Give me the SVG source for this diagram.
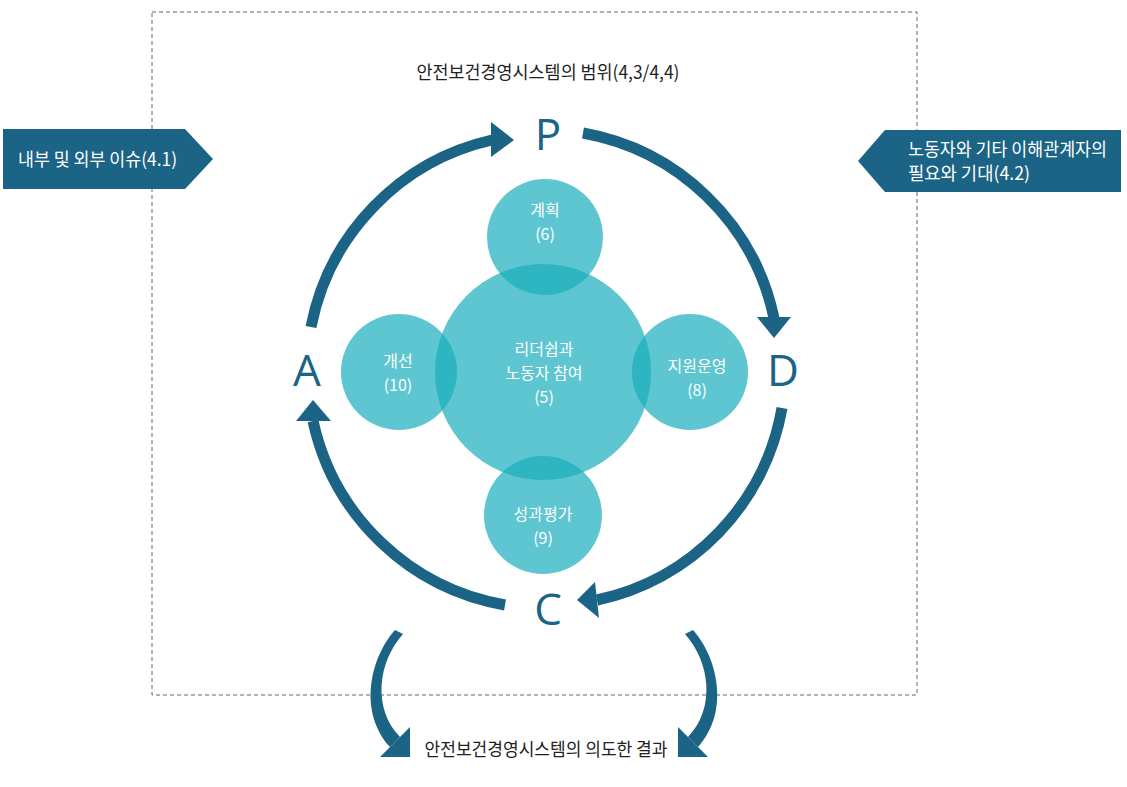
<svg xmlns="http://www.w3.org/2000/svg" width="1127" height="787" viewBox="0 0 1127 787">
<style>
.kr{font-family:"Noto Sans CJK KR","Noto Sans",sans-serif}
.lbl{fill:#ffffff;font-size:18px}
.cir{fill:rgb(25,174,188);fill-opacity:0.7}
.ctx{fill:#ffffff;font-size:16px;text-anchor:middle}
.ring{fill:none;stroke:#1b6485;stroke-width:11}
.head{fill:#1b6485}
.pdca{font-family:"Open Sans","Noto Sans",sans-serif;font-size:44px;fill:#1b6485;text-anchor:middle}
.blk{fill:#222222;font-size:18px;text-anchor:middle}
</style>
<rect x="0" y="0" width="1127" height="787" fill="#ffffff"/>
<rect id="scope" x="152" y="12" width="765" height="683" fill="none" stroke="#4d6f80" stroke-width="1" stroke-dasharray="4 3"/>
<text class="kr blk" x="548" y="79" font-size="17" textLength="263" lengthAdjust="spacingAndGlyphs">안전보건경영시스템의 범위(4,3/4,4)</text>

<g id="issue-internal">
<polygon points="3,129 185,129 213,159 185,189 3,189" fill="#1b6485"/>
<text class="kr lbl" x="18" y="166" textLength="159" lengthAdjust="spacingAndGlyphs">내부 및 외부 이슈(4.1)</text>
</g>
<g id="issue-parties">
<polygon points="858,161 885,130 1121,130 1121,192 885,192" fill="#1b6485"/>
<text class="kr lbl" x="908" y="156" font-size="16" textLength="199" lengthAdjust="spacingAndGlyphs">노동자와 기타 이해관계자의</text>
<text class="kr lbl" x="908" y="180" font-size="16" textLength="122" lengthAdjust="spacingAndGlyphs">필요와 기대(4.2)</text>
</g>

<g id="connectors">
<path class="ring" d="M311,327 A238,238 0 0 1 492,140"/>
<polygon class="head" points="491,122 514,140 491,157"/>
<path class="ring" d="M583,133 A238,238 0 0 1 774,318"/>
<polygon class="head" points="757,317 791,317 774,338"/>
<path class="ring" d="M782,408 A238,238 0 0 1 597,600"/>
<polygon class="head" points="595,582 599,618 577,600"/>
<path class="ring" d="M505,605 A238,238 0 0 1 313,421"/>
<polygon class="head" points="296,421 331,421 313,400"/>
<g id="out-left">
<path class="head" d="M395,630 C370,658 358,712 390,747 L400,737 C372,708 378,662 403,634 Z"/>
<polygon class="head" points="410,727 410,757 380,757"/>
</g>
<g id="out-right" transform="translate(1088,0) scale(-1,1)">
<path class="head" d="M395,630 C370,658 358,712 390,747 L400,737 C372,708 378,662 403,634 Z"/>
<polygon class="head" points="410,727 410,757 380,757"/>
</g>
</g>

<g id="P"><text class="pdca" x="548" y="150">P</text></g>
<g id="D"><text class="pdca" x="783" y="386">D</text></g>
<g id="C"><text class="pdca" x="548" y="625">C</text></g>
<g id="A"><text class="pdca" x="307" y="386">A</text></g>

<g id="leadership">
<circle class="cir" cx="543" cy="372" r="108"/>
</g>
<g id="planning">
<circle class="cir" cx="545" cy="237" r="58"/>
</g>
<g id="improvement">
<circle class="cir" cx="399" cy="372" r="58"/>
</g>
<g id="support">
<circle class="cir" cx="690" cy="372" r="58"/>
</g>
<g id="evaluation">
<circle class="cir" cx="543" cy="515" r="59"/>
</g>
<g id="circle-texts">
<text class="kr ctx" x="544" y="355">리더쉽과</text>
<text class="kr ctx" x="544" y="379">노동자 참여</text>
<text class="kr ctx" x="544" y="403">(5)</text>
<text class="kr ctx" x="545" y="216">계획</text>
<text class="kr ctx" x="545" y="240">(6)</text>
<text class="kr ctx" x="398" y="367">개선</text>
<text class="kr ctx" x="398" y="391">(10)</text>
<text class="kr ctx" x="697" y="372">지원운영</text>
<text class="kr ctx" x="697" y="396">(8)</text>
<text class="kr ctx" x="543" y="520">성과평가</text>
<text class="kr ctx" x="543" y="544">(9)</text>
</g>

<text class="kr blk" x="546" y="756" textLength="243" lengthAdjust="spacingAndGlyphs">안전보건경영시스템의 의도한 결과</text>
</svg>
